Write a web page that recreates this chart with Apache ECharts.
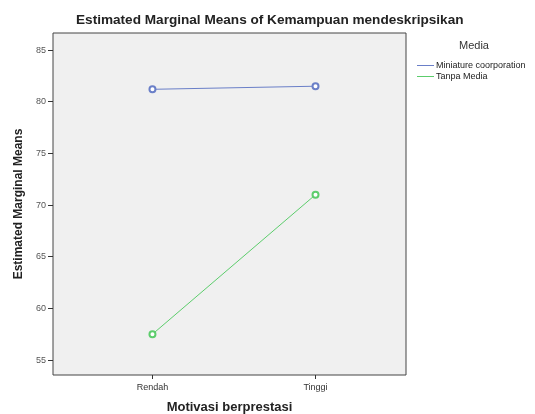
<!DOCTYPE html>
<html><head><meta charset="utf-8">
<script src="https://cdn.jsdelivr.net/npm/echarts@6/dist/echarts.min.js"></script>
<style>html,body{margin:0;padding:0;background:#fff}#c{width:535px;height:414px}</style>
</head><body><div id="c"></div>
<script>
const categories = ['Rendah', 'Tinggi'];
const seriesNames = ['Miniature coorporation', 'Tanpa Media'];
const miniature = [81.2, 81.5];
const tanpaMedia = [57.5, 71.0];
const yTicks = [55, 60, 65, 70, 75, 80, 85];

const F = 'Liberation Sans, Arial, sans-serif';
const chart = echarts.init(document.getElementById('c'));
const mk = (arr) => arr.map((v, i) => [i, v]);
chart.setOption({
  animation: false,
  title: [
    {text: 'Estimated Marginal Means of Kemampuan mendeskripsikan', left: 71, top: 8,
     textStyle: {fontFamily: F, fontSize: 13.6, fontWeight: 'bold', color: '#222'}},
    {text: 'Media', left: 454, top: 35,
     textStyle: {fontFamily: F, fontSize: 11, fontWeight: 'normal', color: '#333'}}
  ],
  legend: {
    orient: 'vertical', left: 412, top: 56, itemGap: 2, itemWidth: 17, itemHeight: 1,
    icon: 'rect', data: seriesNames,
    textStyle: {fontFamily: F, fontSize: 9, color: '#222', padding: [0, 0, 0, -3]}
  },
  grid: {left: 53, top: 33, width: 353, height: 342, show: true, backgroundColor: '#f0f0f0',
         borderColor: '#444', borderWidth: 1, outerBoundsMode: 'none', containLabel: false},
  xAxis: {
    type: 'value', min: -0.61, max: 1.555,
    name: 'Motivasi berprestasi', nameLocation: 'middle', nameGap: 26,
    nameTextStyle: {fontFamily: F, fontSize: 13, fontWeight: 'bold', color: '#222'},
    axisLine: {show: false, onZero: false}, splitLine: {show: false},
    axisTick: {show: true, length: 4, customValues: [0, 1], lineStyle: {color: '#333'}},
    axisLabel: {customValues: [0, 1], formatter: (v) => categories[Math.round(v)] || '',
                fontFamily: F, fontSize: 9, color: '#333', margin: 8}
  },
  yAxis: {
    type: 'value', min: 53.55, max: 86.65,
    name: 'Estimated Marginal Means', nameLocation: 'middle', nameGap: 22,
    nameTextStyle: {fontFamily: F, fontSize: 12, fontWeight: 'bold', color: '#222'},
    axisLine: {show: false, onZero: false}, splitLine: {show: false},
    axisTick: {show: true, length: 5, customValues: yTicks, lineStyle: {color: '#333'}},
    axisLabel: {customValues: yTicks, fontFamily: F, fontSize: 9, color: '#555', margin: 7}
  },
  series: [
    {name: seriesNames[0], type: 'line', data: mk(miniature), symbol: 'emptyCircle', symbolSize: 6,
     lineStyle: {color: '#6a7fc8', width: 1}, itemStyle: {color: '#6a7fc8', borderWidth: 1.2}},
    {name: seriesNames[1], type: 'line', data: mk(tanpaMedia), symbol: 'emptyCircle', symbolSize: 6,
     lineStyle: {color: '#5ccd6c', width: 1}, itemStyle: {color: '#5ccd6c', borderWidth: 1.2}}
  ]
});
</script></body></html>
